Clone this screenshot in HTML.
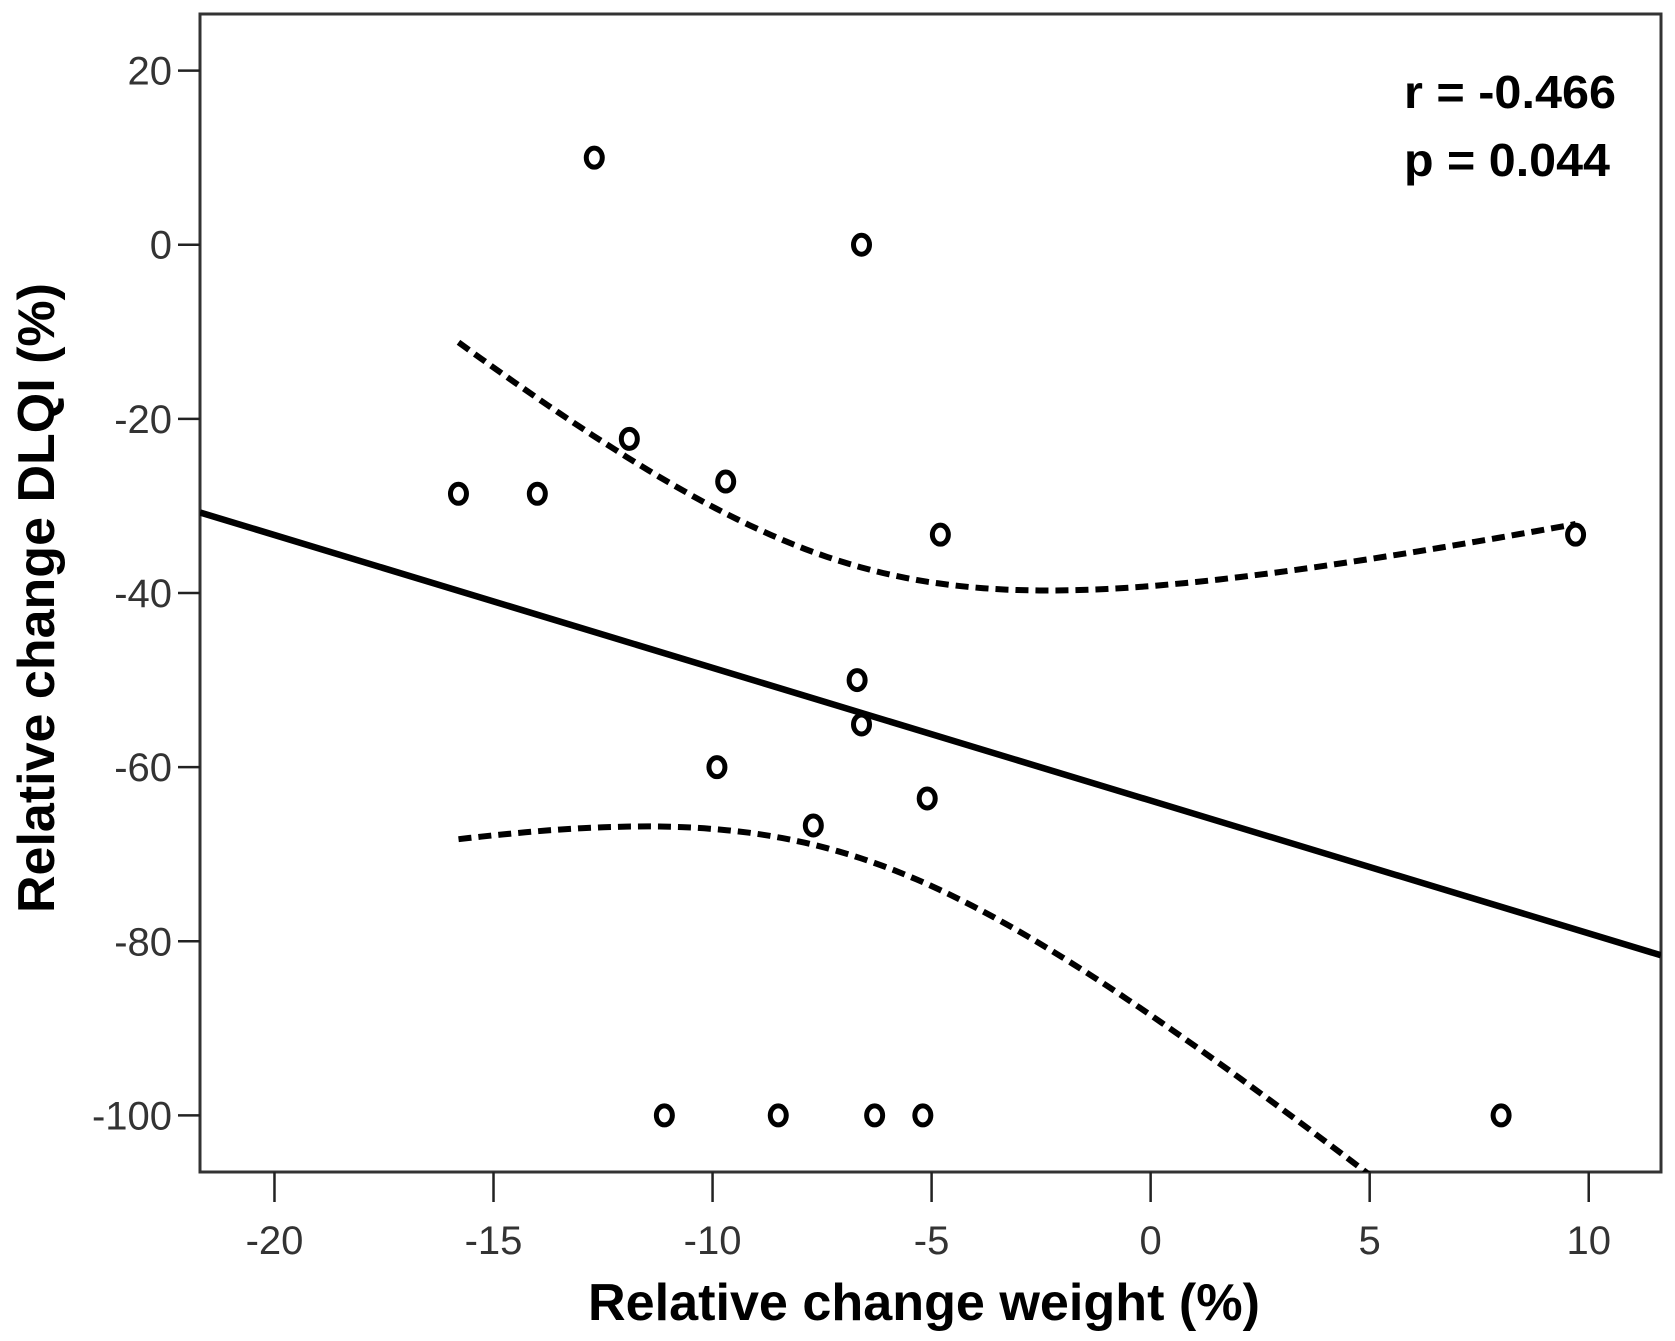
<!DOCTYPE html>
<html><head><meta charset="utf-8"><style>
html,body{margin:0;padding:0;background:#fff;}
svg{display:block;font-family:"Liberation Sans",Arial,sans-serif;}
</style></head><body>
<svg id="chart" width="1675" height="1341" viewBox="0 0 1675 1341" xmlns="http://www.w3.org/2000/svg">
<defs><clipPath id="plotclip"><rect x="200" y="14" width="1461" height="1158"/></clipPath></defs>
<rect x="200" y="14" width="1461" height="1158" fill="#fff" stroke="#333" stroke-width="3"/>
<g id="xticks"></g>
<g id="yticks"></g>
<g id="marks" clip-path="url(#plotclip)"></g>
<text x="924" y="1320" text-anchor="middle" font-size="52" font-weight="bold" fill="#000" textLength="672" lengthAdjust="spacingAndGlyphs">Relative change weight (%)</text>
<text transform="translate(54,598) rotate(-90)" text-anchor="middle" font-size="52" font-weight="bold" fill="#000" textLength="630" lengthAdjust="spacingAndGlyphs">Relative change DLQI (%)</text>
<text x="1404" y="108" font-size="46" font-weight="bold" fill="#000" textLength="212" lengthAdjust="spacingAndGlyphs">r = -0.466</text>
<text x="1404" y="176" font-size="46" font-weight="bold" fill="#000" textLength="206" lengthAdjust="spacingAndGlyphs">p = 0.044</text>
</svg>
<script>
const xVals = [-12.7,-6.6,-11.9,-9.7,-15.8,-14.0,-4.8,9.7,-6.7,-6.6,-9.9,-5.1,-7.7,-11.1,-8.5,-6.3,-5.2,8.0];
const yVals = [10,0,-22.3,-27.2,-28.6,-28.6,-33.3,-33.3,-50,-55.1,-60,-63.6,-66.7,-100,-100,-100,-100,-100];
const xTicks = [-20,-15,-10,-5,0,5,10];
const yTicks = [20,0,-20,-40,-60,-80,-100];
const xDomain = [-21.7,11.65];
const yDomain = [26.5,-106.5];

const NS="http://www.w3.org/2000/svg";
const L=200,R=1661,T=14,B=1172;
function sx(v){return L+(v-xDomain[0])/(xDomain[1]-xDomain[0])*(R-L);}
function sy(v){return T+(v-yDomain[0])/(yDomain[1]-yDomain[0])*(B-T);}
function mk(tag,attrs,parent){const e=document.createElementNS(NS,tag);for(const k in attrs)e.setAttribute(k,attrs[k]);parent.appendChild(e);return e;}

const gx=document.getElementById('xticks'),gy=document.getElementById('yticks'),gm=document.getElementById('marks');
xTicks.forEach(t=>{
  const ln=mk('line',{x1:sx(t),x2:sx(t),y1:B,y2:B+30,stroke:'#222','stroke-width':2.5},gx);
  
  
  const tx=mk('text',{x:sx(t),y:B+82,'text-anchor':'middle','font-size':40,fill:'#333'},gx);
  tx.textContent=String(t);
  
  
});
yTicks.forEach(t=>{
  const ln=mk('line',{x1:L-22,x2:L,y1:sy(t),y2:sy(t),stroke:'#222','stroke-width':2.5},gy);
  
  
  const tx=mk('text',{x:L-28,y:sy(t)+14,'text-anchor':'end','font-size':40,fill:'#333'},gy);
  tx.textContent=String(t);
  
  
});

// OLS fit and 95% CI of mean
const n=xVals.length;
const mx=xVals.reduce((a,b)=>a+b,0)/n, my=yVals.reduce((a,b)=>a+b,0)/n;
let sxx=0,sxy=0;for(let i=0;i<n;i++){sxx+=(xVals[i]-mx)**2;sxy+=(xVals[i]-mx)*(yVals[i]-my);}
const b=sxy/sxx,a=my-b*mx;
let sse=0;for(let i=0;i<n;i++){sse+=(yVals[i]-a-b*xVals[i])**2;}
const s=Math.sqrt(sse/(n-2)),tcrit=2.0;
const fitLine=mk('line',{x1:sx(xDomain[0]),y1:sy(a+b*xDomain[0]),x2:sx(xDomain[1]),y2:sy(a+b*xDomain[1]),stroke:'#000','stroke-width':6.5},gm);


const xmin=Math.min(...xVals),xmax=Math.max(...xVals);
[1,-1].forEach(sg=>{
  let d='';
  for(let k=0;k<=100;k++){const x=xmin+(xmax-xmin)*k/100;const y=a+b*x+sg*tcrit*s*Math.sqrt(1/n+(x-mx)**2/sxx);d+=(k?'L':'M')+sx(x).toFixed(1)+' '+sy(y).toFixed(1);}
  const p=mk('path',{d:d,fill:'none',stroke:'#000','stroke-width':6,'stroke-dasharray':'13 7'},gm);
  
  
});
for(let i=0;i<n;i++){
  const c=mk('ellipse',{cx:sx(xVals[i]),cy:sy(yVals[i]),rx:8,ry:9.5,fill:'#fff',stroke:'#000','stroke-width':5},gm);
  
  
}
</script>
</body></html>
